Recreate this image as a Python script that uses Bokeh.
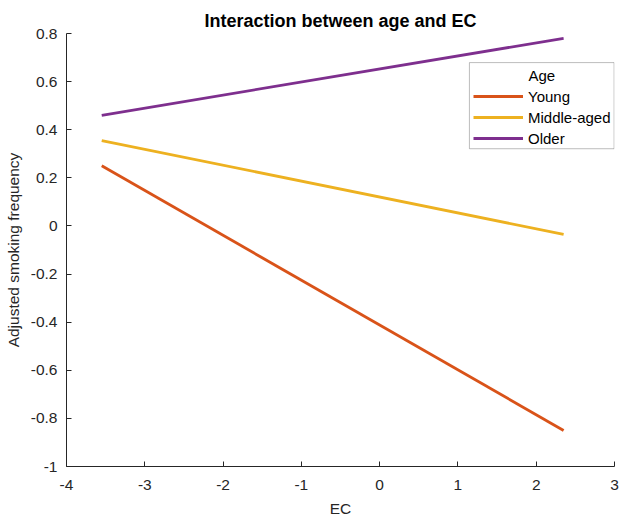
from bokeh.plotting import figure
from bokeh.models import (Range1d, FixedTicker, Legend, LegendItem, Label,
                          BoxAnnotation)
from bokeh.embed import file_html
from bokeh.resources import INLINE

# ---- data ----
ec = [-3.55, 2.35]
young = [0.25, -0.85]
middle_aged = [0.355, -0.035]
older = [0.46, 0.78]

series_names = ["Young", "Middle-aged", "Older"]
series_values = [young, middle_aged, older]
series_colors = ["#D95319", "#EDB120", "#7E2F8E"]

x_ticks = [-4, -3, -2, -1, 0, 1, 2, 3]
x_tick_labels = ["-4", "-3", "-2", "-1", "0", "1", "2", "3"]
y_ticks = [-1.0, -0.8, -0.6, -0.4, -0.2, 0.0, 0.2, 0.4, 0.6, 0.8]
y_tick_labels = ["-1", "-0.8", "-0.6", "-0.4", "-0.2", "0", "0.2", "0.4", "0.6", "0.8"]

FONT = "Liberation Sans"
AX = "#262626"

p = figure(width=624, height=523, output_backend="svg", toolbar_location=None,
           x_range=Range1d(-4, 3), y_range=Range1d(-1, 0.8),
           min_border_left=66, min_border_right=10, min_border_top=33,
           min_border_bottom=57, title="Interaction between age and EC",
           x_axis_label="EC", y_axis_label="Adjusted smoking frequency")

p.outline_line_color = None
p.grid.visible = False
p.background_fill_color = "white"
p.border_fill_color = "white"

p.title.text_font = FONT
p.title.text_font_size = "18px"
p.title.text_font_style = "bold"
p.title.text_color = "black"
p.title.align = "center"
p.title.standoff = 5

for ax in (p.xaxis[0], p.yaxis[0]):
    ax.axis_line_color = AX
    ax.axis_line_width = 1
    ax.major_tick_line_color = AX
    ax.major_tick_in = 5
    ax.major_tick_out = 0
    ax.minor_tick_line_color = None
    ax.major_label_text_font = FONT
    ax.major_label_text_font_size = "15.5px"
    ax.major_label_text_color = AX
    ax.axis_label_text_font = FONT
    ax.axis_label_text_font_size = "15.5px"
    ax.axis_label_text_font_style = "normal"
    ax.axis_label_text_color = AX

p.xaxis[0].ticker = FixedTicker(ticks=x_ticks)
p.xaxis[0].major_label_overrides = {t: l for t, l in zip(x_ticks, x_tick_labels)}
p.xaxis[0].major_label_standoff = 13
p.xaxis[0].axis_label_standoff = 7
p.yaxis[0].ticker = FixedTicker(ticks=y_ticks)
p.yaxis[0].major_label_overrides = {t: l for t, l in zip(y_ticks, y_tick_labels)}
p.yaxis[0].major_label_standoff = 9
p.yaxis[0].axis_label_standoff = 6

renderers = []
for name, vals, col in zip(series_names, series_values, series_colors):
    r = p.line(ec, vals, line_color=col, line_width=2.8)
    renderers.append(r)

# legend frame
box = BoxAnnotation(left=1.147, right=2.995, top=0.679, bottom=0.321,
                    fill_color="white", fill_alpha=1.0,
                    line_color=AX, line_width=1)
p.add_layout(box)

legend = Legend(items=[LegendItem(label=n, renderers=[r])
                       for n, r in zip(series_names, renderers)],
                location=(407, 318), padding=0, margin=0, spacing=1,
                glyph_width=50, glyph_height=20, label_height=20,
                label_standoff=5, border_line_alpha=0,
                background_fill_alpha=0,
                label_text_font=FONT, label_text_font_size="15px",
                label_text_color="black")
p.add_layout(legend, "center")

p.add_layout(Label(x=1.90, y=0.625, text="Age", text_font=FONT,
                   text_font_size="15px", text_color="black",
                   text_baseline="middle", text_align="left"))

open("out.html", "w").write(file_html(p, INLINE))
